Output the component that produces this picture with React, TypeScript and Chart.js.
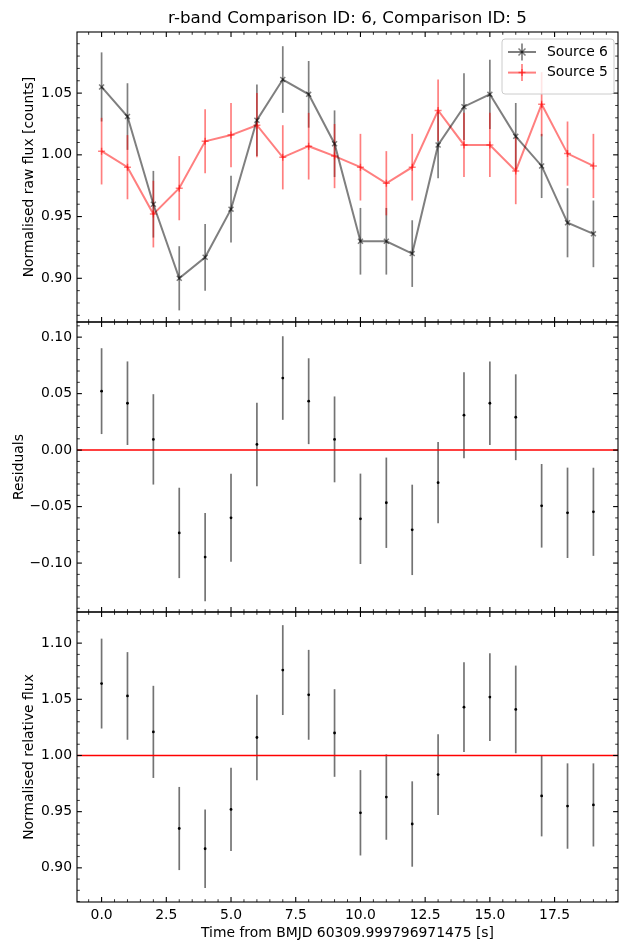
import { useEffect, useRef } from "react";
import { Chart, registerables } from "chart.js";

Chart.register(...registerables);

const FONT = "'DejaVu Sans', 'Liberation Sans', sans-serif";

const TITLE = "r-band Comparison ID: 6, Comparison ID: 5";
const X_LABEL = "Time from BMJD 60309.999796971475 [s]";
const RAW_LABEL = "Normalised raw flux [counts]";
const RES_LABEL = "Residuals";
const REL_LABEL = "Normalised relative flux";

// Time stamps of the frames [s]
const time = [0, 1, 2, 3, 4, 5, 6, 7, 8, 9, 10, 11, 12, 13, 14, 15, 16, 17, 18, 19];

// Normalised raw flux of the two comparison stars
const source6Flux = [1.055, 1.031, 0.960, 0.900, 0.917, 0.956, 1.028, 1.061, 1.049, 1.009, 0.930, 0.930, 0.920, 1.008, 1.039, 1.049, 1.015, 0.991, 0.945, 0.936];
const source6Err = [0.028, 0.027, 0.027, 0.026, 0.027, 0.027, 0.029, 0.027, 0.027, 0.027, 0.027, 0.027, 0.027, 0.027, 0.027, 0.028, 0.027, 0.026, 0.028, 0.027];
const source5Flux = [1.003, 0.990, 0.952, 0.973, 1.011, 1.016, 1.024, 0.998, 1.007, 0.999, 0.990, 0.977, 0.990, 1.036, 1.008, 1.008, 0.987, 1.041, 1.001, 0.991];
const source5Err = [0.027, 0.026, 0.027, 0.026, 0.026, 0.026, 0.026, 0.026, 0.027, 0.026, 0.027, 0.026, 0.027, 0.025, 0.026, 0.026, 0.027, 0.026, 0.026, 0.026];

// Residuals between the two sources
const residuals = [0.0522, 0.0415, 0.0095, -0.0733, -0.0947, -0.0599, 0.005, 0.0638, 0.0433, 0.0095, -0.0608, -0.0466, -0.0706, -0.0288, 0.0309, 0.0415, 0.0291, -0.0493, -0.0555, -0.0546];
const residualErr = [0.038, 0.037, 0.040, 0.040, 0.039, 0.039, 0.037, 0.037, 0.038, 0.038, 0.040, 0.040, 0.040, 0.036, 0.038, 0.037, 0.038, 0.037, 0.040, 0.039];

// Relative flux (source 6 / source 5)
const relativeFlux = [1.064, 1.053, 1.021, 0.935, 0.917, 0.952, 1.016, 1.076, 1.054, 1.020, 0.949, 0.963, 0.939, 0.983, 1.043, 1.052, 1.041, 0.964, 0.955, 0.956];
const relativeErr = [0.040, 0.039, 0.041, 0.037, 0.035, 0.037, 0.038, 0.040, 0.040, 0.039, 0.038, 0.038, 0.038, 0.036, 0.040, 0.039, 0.039, 0.036, 0.038, 0.037];

// Reference levels
const RESIDUAL_REF = 0;
const RELATIVE_REF = 1;

// Axis limits and ticks
const xLimits = [-0.95, 19.95];
const rawLimits = [0.8646, 1.0995];
const resLimits = [-0.1433, 0.1134];
const relLimits = [0.8696, 1.1277];
const xTicks = [0, 2.5, 5, 7.5, 10, 12.5, 15, 17.5];
const rawTicks = [0.9, 0.95, 1.0, 1.05];
const resTicks = [-0.1, -0.05, 0, 0.05, 0.1];
const relTicks = [0.9, 0.95, 1.0, 1.05, 1.1];
const X_MINOR = 0.5;
const Y_MINOR = 0.01;

const GREY = "rgba(0,0,0,0.5)";
const PINK = "rgba(255,0,0,0.5)";
const BAR = "rgba(0,0,0,0.55)";

const fmtSigned = (v: number, d: number) => {
  const s = Math.abs(v).toFixed(d);
  return v < -1e-9 ? "\u2212" + s : s;
};

function drawTickMarks(chart: any, yScale: any, minorStep: number) {
  const ctx = chart.ctx;
  const xs = chart.scales.x;
  const { left, right } = chart.chartArea;
  const top = yScale.top;
  const bottom = yScale.bottom;
  const MAJ = 4.9;
  const MIN = 2.8;
  ctx.save();
  ctx.strokeStyle = "#000";
  // x ticks, top and bottom edges, pointing inwards
  const xMinor: number[] = [];
  for (let k = Math.ceil(xs.min / X_MINOR); k <= Math.floor(xs.max / X_MINOR); k++) {
    if (k % 5 !== 0) xMinor.push(k * X_MINOR);
  }
  const seg = (x1: number, y1: number, x2: number, y2: number) => {
    ctx.beginPath();
    ctx.moveTo(x1, y1);
    ctx.lineTo(x2, y2);
    ctx.stroke();
  };
  ctx.lineWidth = 1.1;
  xTicks.forEach((v) => {
    const px = xs.getPixelForValue(v);
    seg(px, top, px, top + MAJ);
    seg(px, bottom, px, bottom - MAJ);
  });
  ctx.lineWidth = 0.8;
  xMinor.forEach((v) => {
    const px = xs.getPixelForValue(v);
    seg(px, top, px, top + MIN);
    seg(px, bottom, px, bottom - MIN);
  });
  // y ticks, left and right edges
  const majors = yScale.ticks.map((t: any) => t.value);
  ctx.lineWidth = 1.1;
  majors.forEach((v: number) => {
    const py = yScale.getPixelForValue(v);
    seg(left, py, left + MAJ, py);
    seg(right, py, right - MAJ, py);
  });
  ctx.lineWidth = 0.8;
  const k0 = Math.ceil(yScale.min / minorStep - 1e-6);
  const k1 = Math.floor(yScale.max / minorStep + 1e-6);
  for (let k = k0; k <= k1; k++) {
    if (k % 5 === 0) continue;
    const py = yScale.getPixelForValue(k * minorStep);
    seg(left, py, left + MIN, py);
    seg(right, py, right - MIN, py);
  }
  // panel frame
  ctx.lineWidth = 1.1;
  ctx.strokeRect(left, top, right - left, bottom - top);
  ctx.restore();
}

const panelPlugin = {
  id: "panelDecor",
  beforeDatasetsDraw(chart: any) {
    const ctx = chart.ctx;
    const xs = chart.scales.x;
    ctx.save();
    chart.data.datasets.forEach((ds: any, i: number) => {
      if (!ds.errors) return;
      const meta = chart.getDatasetMeta(i);
      const ys = chart.scales[meta.yAxisID];
      ctx.strokeStyle = ds.errorColor;
      ctx.lineWidth = ds.errorWidth;
      ds.data.forEach((p: any, j: number) => {
        const e = ds.errors[j];
        const px = xs.getPixelForValue(p.x);
        ctx.beginPath();
        ctx.moveTo(px, ys.getPixelForValue(p.y - e));
        ctx.lineTo(px, ys.getPixelForValue(p.y + e));
        ctx.stroke();
      });
    });
    ctx.restore();
  },
  afterDatasetsDraw(chart: any) {
    const ctx = chart.ctx;
    const { left, right } = chart.chartArea;
    const yRaw = chart.scales.yRaw;
    const yRes = chart.scales.yRes;
    const yRel = chart.scales.yRel;

    // reference lines
    ctx.save();
    ctx.strokeStyle = "#ff0000";
    ctx.lineWidth = 1.5;
    [
      [yRes, RESIDUAL_REF],
      [yRel, RELATIVE_REF],
    ].forEach(([s, v]: any) => {
      const py = s.getPixelForValue(v);
      ctx.beginPath();
      ctx.moveTo(left, py);
      ctx.lineTo(right, py);
      ctx.stroke();
    });
    ctx.restore();

    drawTickMarks(chart, yRaw, Y_MINOR);
    drawTickMarks(chart, yRes, Y_MINOR);
    drawTickMarks(chart, yRel, Y_MINOR);

    // title and axis labels
    ctx.save();
    ctx.fillStyle = "#000";
    ctx.textAlign = "center";
    ctx.textBaseline = "alphabetic";
    ctx.font = `16.7px ${FONT}`;
    ctx.fillText(TITLE, (left + right) / 2, 22.5);
    ctx.font = `13.9px ${FONT}`;
    ctx.fillText(X_LABEL, (left + right) / 2, 937);
    const vText = (text: string, x: number, s: any) => {
      ctx.save();
      ctx.translate(x, (s.top + s.bottom) / 2);
      ctx.rotate(-Math.PI / 2);
      ctx.fillText(text, 0, 0);
      ctx.restore();
    };
    vText(RAW_LABEL, 32.5, yRaw);
    vText(RES_LABEL, 22.5, yRes);
    vText(REL_LABEL, 32.5, yRel);
    ctx.restore();

    // legend
    ctx.save();
    const bx = 502, by = 39, bw = 112, bh = 55, r = 3;
    ctx.beginPath();
    ctx.moveTo(bx + r, by);
    ctx.arcTo(bx + bw, by, bx + bw, by + bh, r);
    ctx.arcTo(bx + bw, by + bh, bx, by + bh, r);
    ctx.arcTo(bx, by + bh, bx, by, r);
    ctx.arcTo(bx, by, bx + bw, by, r);
    ctx.closePath();
    ctx.fillStyle = "rgba(255,255,255,0.8)";
    ctx.fill();
    ctx.strokeStyle = "#cccccc";
    ctx.lineWidth = 1;
    ctx.stroke();
    const rows = [chart.data.datasets[0], chart.data.datasets[1]];
    rows.forEach((ds: any, i: number) => {
      const cy = 52 + i * 20.6;
      const x0 = 508, x1 = 536, cx = (x0 + x1) / 2;
      ctx.strokeStyle = ds.borderColor;
      ctx.lineWidth = 2;
      ctx.beginPath();
      ctx.moveTo(x0, cy);
      ctx.lineTo(x1, cy);
      ctx.stroke();
      ctx.strokeStyle = ds.errorColor;
      ctx.lineWidth = ds.errorWidth;
      ctx.beginPath();
      ctx.moveTo(cx, cy - 8.5);
      ctx.lineTo(cx, cy + 8.5);
      ctx.stroke();
      ctx.strokeStyle = ds.pointBorderColor;
      ctx.lineWidth = 1.5;
      const m = 3.5;
      ctx.beginPath();
      if (ds.pointStyle === "crossRot") {
        ctx.moveTo(cx - m, cy - m);
        ctx.lineTo(cx + m, cy + m);
        ctx.moveTo(cx - m, cy + m);
        ctx.lineTo(cx + m, cy - m);
      } else {
        ctx.moveTo(cx - m, cy);
        ctx.lineTo(cx + m, cy);
        ctx.moveTo(cx, cy - m);
        ctx.lineTo(cx, cy + m);
      }
      ctx.stroke();
      ctx.fillStyle = "#000";
      ctx.font = `13.9px ${FONT}`;
      ctx.textAlign = "left";
      ctx.textBaseline = "middle";
      ctx.fillText(ds.label, 547, cy);
    });
    ctx.restore();
  },
};

const pts = (ys: number[]) => time.map((t, i) => ({ x: t, y: ys[i] }));

function yAxis(limits: number[], ticks: number[], weight: number) {
  return {
    type: "linear",
    position: "left",
    stack: "panels",
    stackWeight: 1,
    weight,
    min: limits[0],
    max: limits[1],
    afterBuildTicks: (s: any) => {
      s.ticks = ticks.map((v) => ({ value: v }));
    },
    afterFit: (s: any) => {
      s.width = 77;
    },
    grid: { display: false, drawTicks: false },
    border: { display: false },
    ticks: {
      color: "#000",
      padding: 5,
      font: { family: FONT, size: 13.9 },
      callback: (v: any) => fmtSigned(Number(v), 2),
    },
  };
}

export default function App() {
  const ref = useRef<HTMLCanvasElement | null>(null);

  useEffect(() => {
    if (!ref.current) return;
    const chart = new Chart(ref.current, {
      type: "line",
      data: {
        datasets: [
          {
            label: "Source 6",
            data: pts(source6Flux),
            yAxisID: "yRaw",
            borderColor: GREY,
            borderWidth: 2,
            pointStyle: "crossRot",
            pointRadius: 3.5,
            pointBorderWidth: 1.5,
            pointBorderColor: GREY,
            pointBackgroundColor: GREY,
            errors: source6Err,
            errorColor: GREY,
            errorWidth: 1.7,
          },
          {
            label: "Source 5",
            data: pts(source5Flux),
            yAxisID: "yRaw",
            borderColor: PINK,
            borderWidth: 2,
            pointStyle: "cross",
            pointRadius: 3.5,
            pointBorderWidth: 1.5,
            pointBorderColor: PINK,
            pointBackgroundColor: PINK,
            errors: source5Err,
            errorColor: PINK,
            errorWidth: 1.7,
          },
          {
            label: "Residuals",
            data: pts(residuals),
            yAxisID: "yRes",
            showLine: false,
            pointStyle: "circle",
            pointRadius: 1.4,
            pointBorderWidth: 0,
            pointBackgroundColor: "#000",
            errors: residualErr,
            errorColor: BAR,
            errorWidth: 1.7,
          },
          {
            label: "Relative flux",
            data: pts(relativeFlux),
            yAxisID: "yRel",
            showLine: false,
            pointStyle: "circle",
            pointRadius: 1.4,
            pointBorderWidth: 0,
            pointBackgroundColor: "#000",
            errors: relativeErr,
            errorColor: BAR,
            errorWidth: 1.7,
          },
        ] as any,
      },
      options: {
        animation: false,
        responsive: false,
        layout: { padding: { top: 32, right: 12, left: 0, bottom: 0 } },
        plugins: {
          legend: { display: false },
          title: { display: false },
          tooltip: { enabled: false },
        },
        scales: {
          x: {
            type: "linear",
            min: xLimits[0],
            max: xLimits[1],
            afterBuildTicks: (s: any) => {
              s.ticks = xTicks.map((v) => ({ value: v }));
            },
            afterFit: (s: any) => {
              s.height = 48;
            },
            grid: { display: false, drawTicks: false },
            border: { display: false },
            ticks: {
              color: "#000",
              padding: 5,
              maxRotation: 0,
              autoSkip: false,
              font: { family: FONT, size: 13.9 },
              callback: (v: any) => Number(v).toFixed(1),
            },
          },
          yRaw: yAxis(rawLimits, rawTicks, 3),
          yRes: yAxis(resLimits, resTicks, 2),
          yRel: yAxis(relLimits, relTicks, 1),
        } as any,
      },
      plugins: [panelPlugin],
    });
    return () => chart.destroy();
  }, []);

  return (
    <div style={{ position: "absolute", left: 0, top: 0, width: 630, height: 950, background: "#fff" }}>
      <canvas ref={ref} width={630} height={950} style={{ display: "block" }} />
    </div>
  );
}
